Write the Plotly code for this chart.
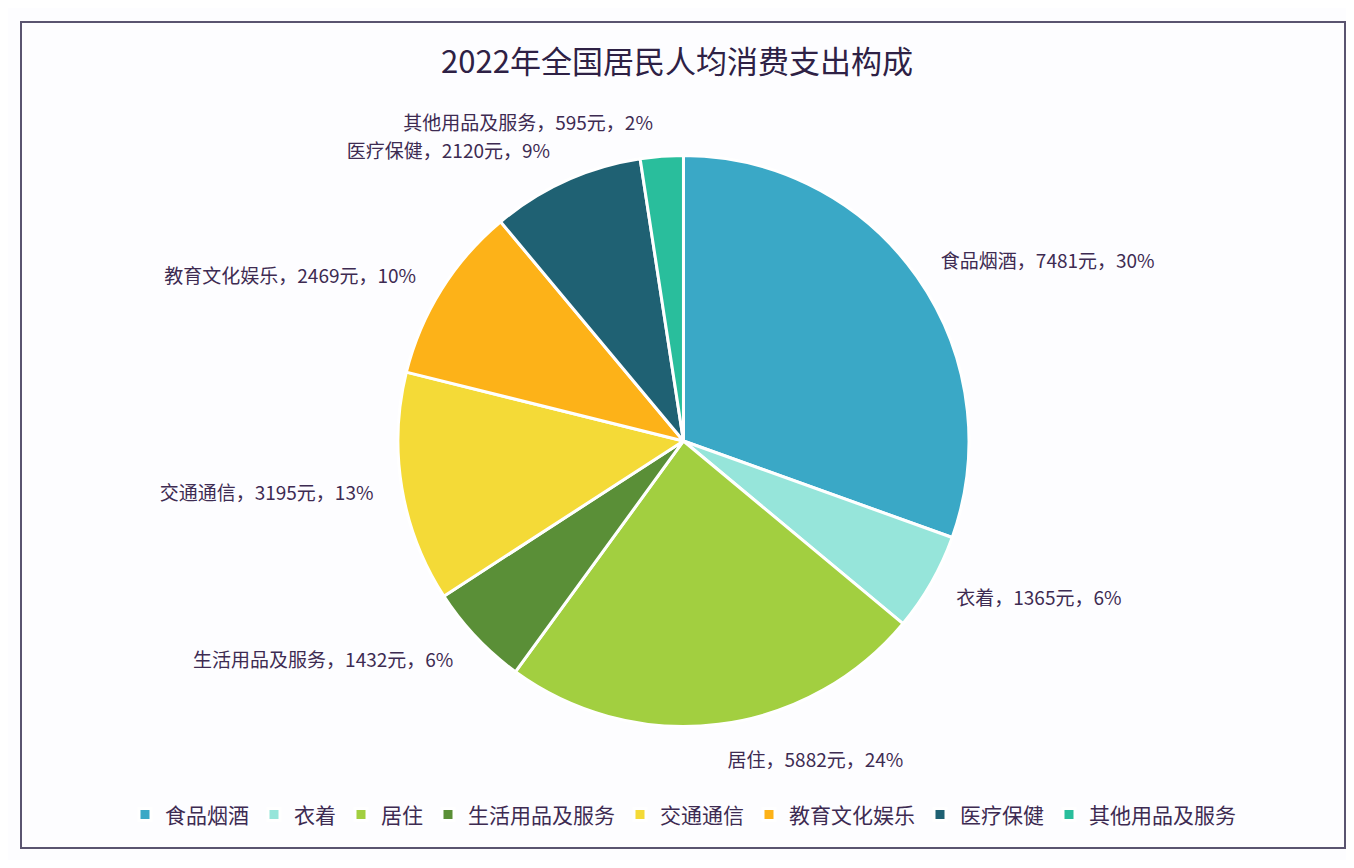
import plotly.graph_objects as go

categories = ["食品烟酒", "衣着", "居住", "生活用品及服务", "交通通信", "教育文化娱乐", "医疗保健", "其他用品及服务"]
values = [7481, 1365, 5882, 1432, 3195, 2469, 2120, 595]
colors = ["#3AA8C6", "#96E5DA", "#A2CF40", "#5A8F37", "#F4DA37", "#FDB218", "#1F6173", "#29BE9C"]
title_text = "2022年全国居民人均消费支出构成"

font_family = "Noto Sans CJK SC, Noto Sans, sans-serif"
text_color = "#3d2b52"

fig = go.Figure()

# visible pie (no text)
fig.add_trace(go.Pie(
    labels=categories,
    values=values,
    sort=False,
    direction="clockwise",
    rotation=0,
    marker=dict(colors=colors, line=dict(color="white", width=3)),
    textinfo="none",
    domain=dict(x=[0.2847, 0.716], y=[0.1465, 0.839]),
    showlegend=True,
))

# transparent larger pie that carries the outside labels a bit further out
fig.add_trace(go.Pie(
    labels=categories,
    values=values,
    sort=False,
    direction="clockwise",
    rotation=0,
    marker=dict(colors=["rgba(0,0,0,0)"] * len(values), line=dict(width=0)),
    textposition="outside",
    texttemplate="%{label}，%{value}元，%{percent:.0%}",
    textfont=dict(size=19, color=text_color, family=font_family),
    domain=dict(x=[0.2681, 0.7319], y=[0.1211, 0.8644]),
    showlegend=False,
    hoverinfo="skip",
))

fig.update_layout(
    width=1338, height=852,
    margin=dict(l=13, r=1, t=14, b=12),
    paper_bgcolor="#fdfdff",
    plot_bgcolor="#fdfdff",
    title=dict(text=title_text, x=0.5, xanchor="center", y=0.9366, yanchor="middle",
               font=dict(size=31, color="#2e2145", family=font_family)),
    legend=dict(orientation="h", x=0.5, xanchor="center", y=0.04, yanchor="middle",
                font=dict(size=21, color=text_color, family=font_family),
                itemwidth=30, traceorder="normal"),
    shapes=[dict(type="rect", xref="paper", yref="paper", x0=0, y0=0, x1=1, y1=1,
                 line=dict(color="#5a5470", width=2))],
)

fig.write_html("out.html")
